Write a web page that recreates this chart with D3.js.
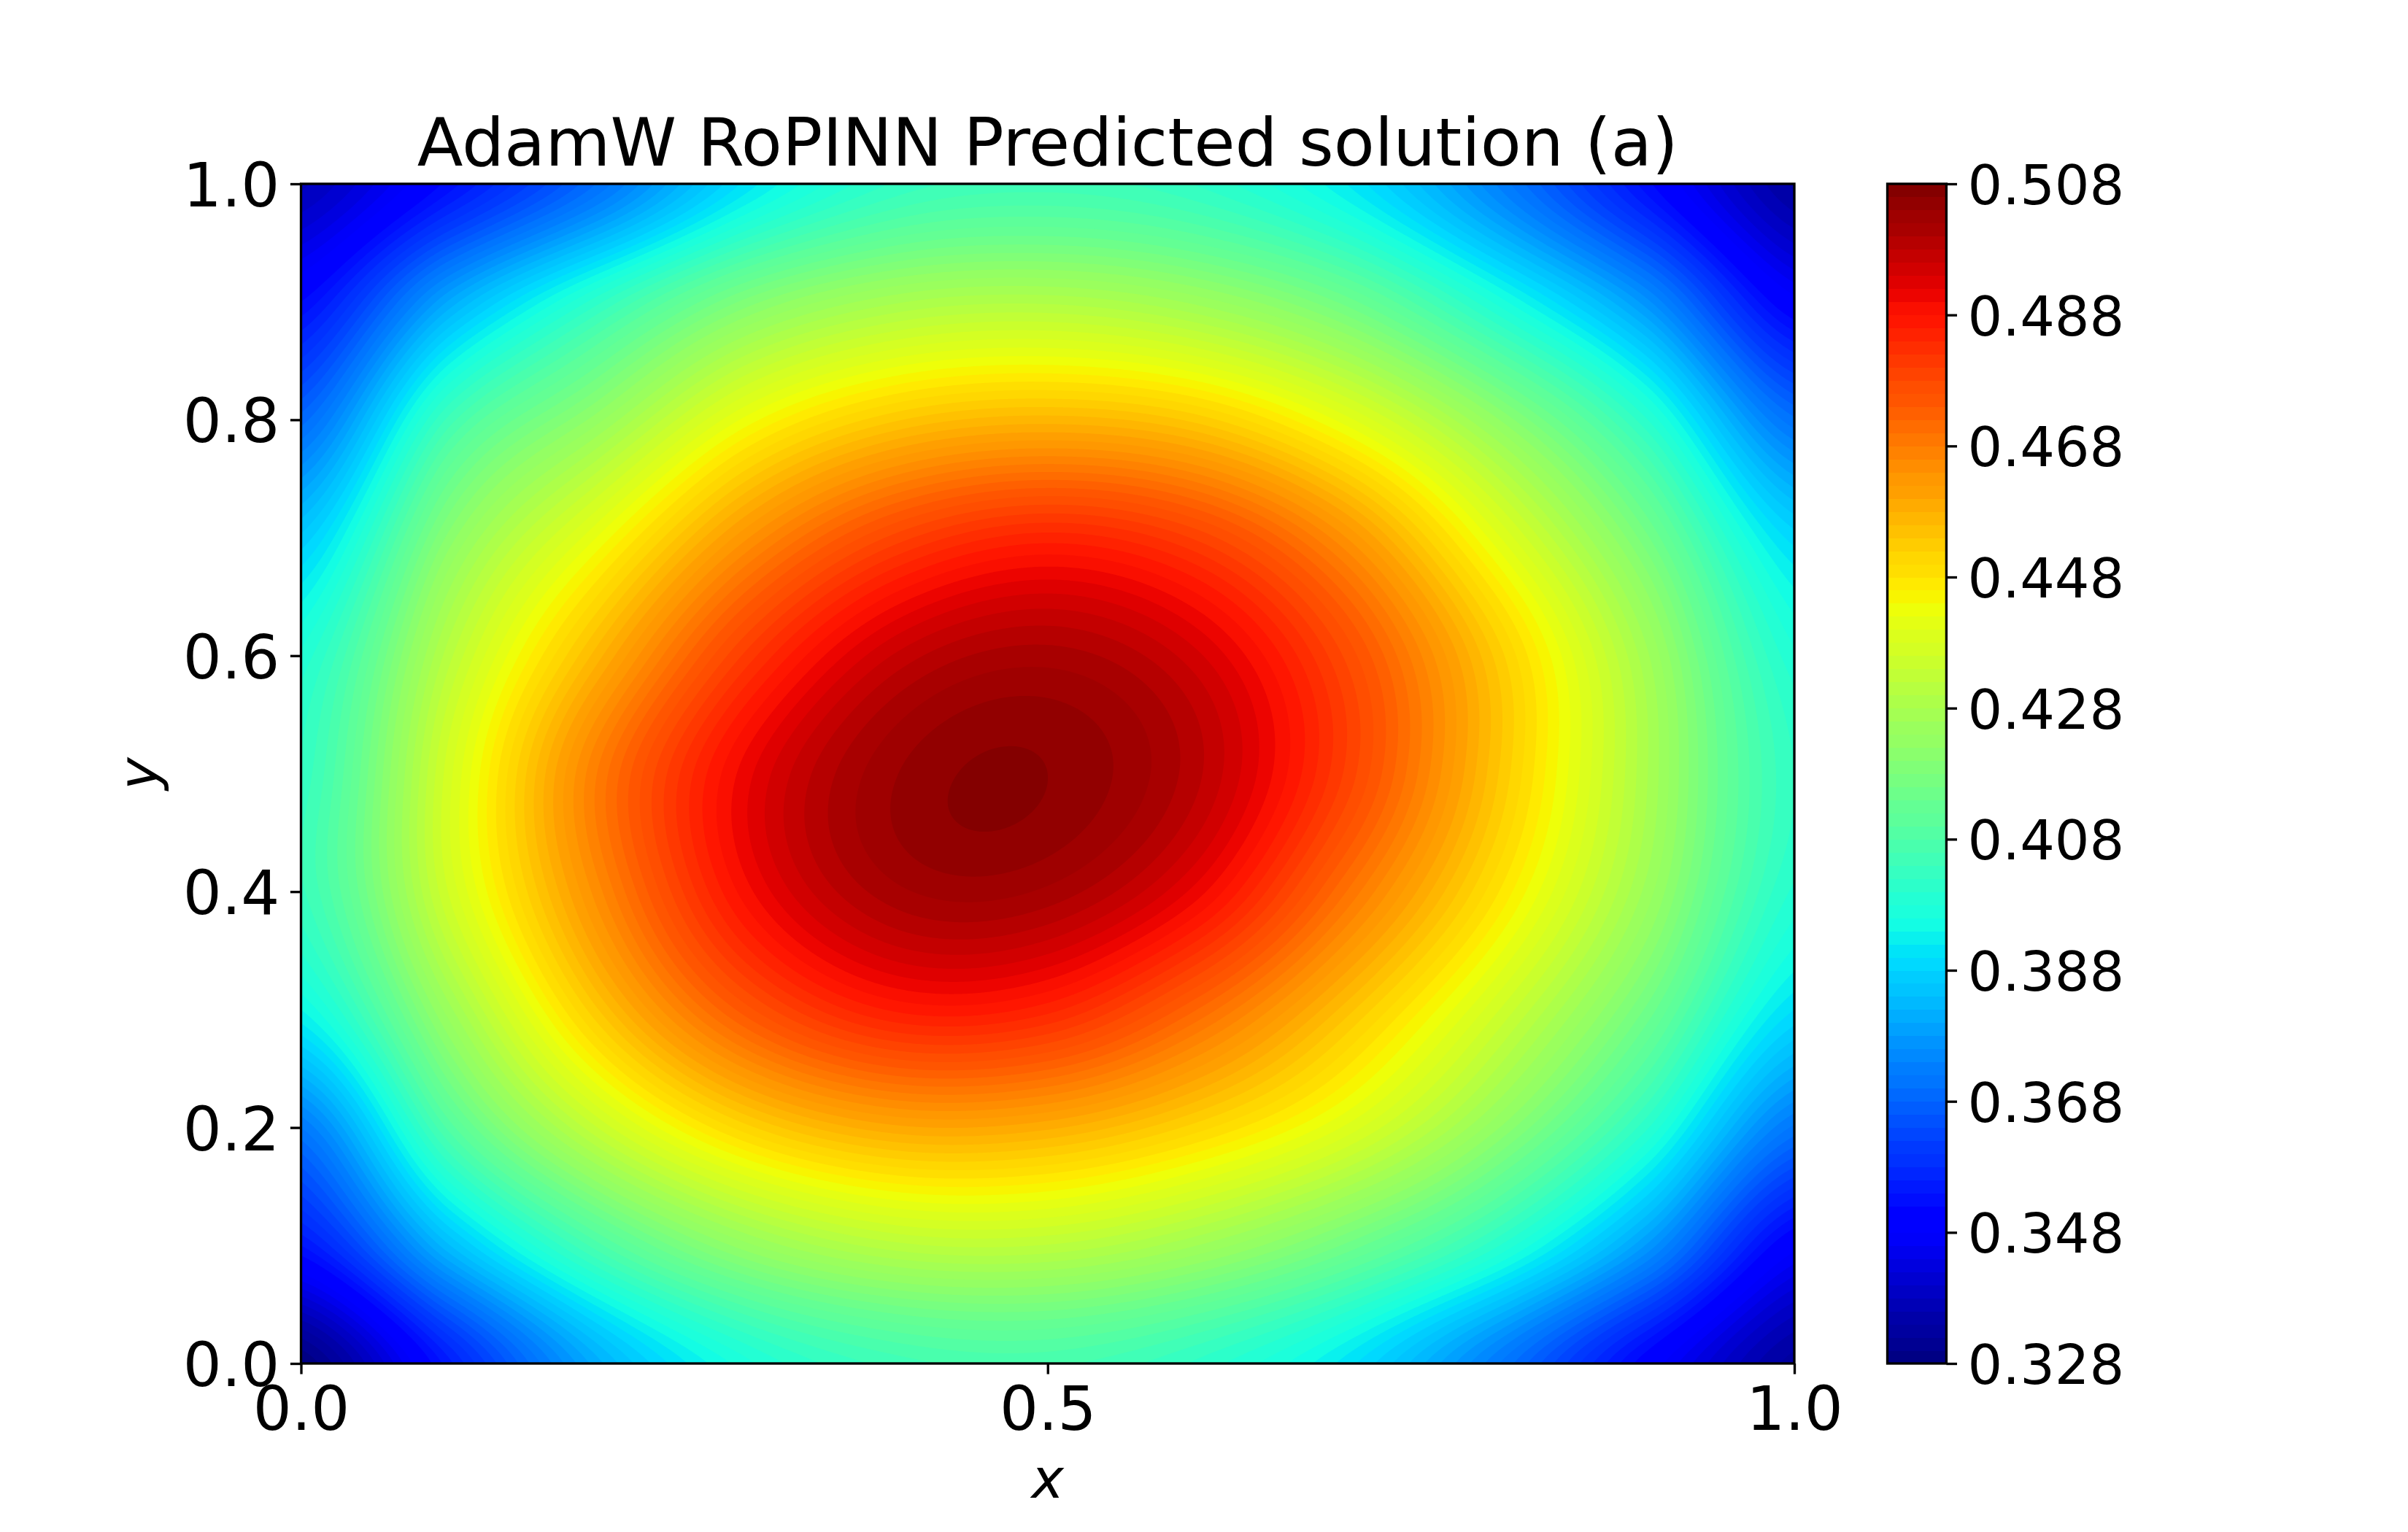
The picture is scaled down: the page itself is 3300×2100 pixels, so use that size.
<!DOCTYPE html>
<html>
<head>
<meta charset="utf-8">
<script src="https://cdnjs.cloudflare.com/ajax/libs/d3/7.8.5/d3.min.js"></script>
<style>
  body { margin: 0; background: #fff; }
  text { font-family: "DejaVu Sans"; fill: #000; }
</style>
</head>
<body>
<div id="graph"></div>
<script>
var titleText = "AdamW RoPINN Predicted solution (a)";

var xGrid = [0, 0.1, 0.2, 0.3, 0.4, 0.5, 0.6, 0.7, 0.8, 0.9, 1];
var yGrid = [1, 0.9, 0.8, 0.7, 0.6, 0.5, 0.4, 0.3, 0.2, 0.1, 0];
var z10 = [.3375, .353, .3705, .391, .4025, .405, .4018, .392, .374, .353, .3335];
var z09 = [.352, .3806, .4016, .419, .4277, .4295, .4253, .4151, .3975, .377, .349];
var z08 = [.369, .405, .4235, .443, .4538, .457, .4532, .4408, .4225, .4005, .3705];
var z07 = [.3865, .421, .4425, .464, .479, .485, .4795, .464, .4408, .4168, .389];
var z06 = [.3985, .4315, .4575, .481, .4965, .501, .4945, .4775, .4535, .4268, .3985];
var z05 = [.4025, .4375, .4685, .4915, .504, .506, .4985, .4795, .4545, .4285, .402];
var z04 = [.4035, .4365, .4655, .4895, .5015, .5015, .491, .470, .4485, .4255, .3995];
var z03 = [.394, .4255, .4542, .4755, .4865, .4848, .472, .455, .4365, .4158, .390];
var z02 = [.372, .409, .4343, .4515, .4595, .4585, .451, .4395, .4225, .4007, .3715];
var z01 = [.354, .384, .4075, .4235, .4313, .4318, .426, .4155, .4005, .378, .349];
var z00 = [.328, .3555, .3815, .3975, .405, .4065, .4015, .391, .3725, .3505, .333];
var zRows = [z10, z09, z08, z07, z06, z05, z04, z03, z02, z01, z00];

var xTicks = [0, 0.5, 1];
var yTicks = [0, 0.2, 0.4, 0.6, 0.8, 1];
var cbarTicks = [0.328, 0.348, 0.368, 0.388, 0.408, 0.428, 0.448, 0.468, 0.488, 0.508];
var zMin = 0.328, zMax = 0.508, nBands = 90;
var levels = d3.range(nBands).map(function(i) { return zMin + (zMax - zMin) * i / nBands; });
var bandStep = (zMax - zMin) / nBands;

var left = 412.5, right = 2459, top_ = 252, bottom = 1869;
var cbLeft = 2586.5, cbRight = 2667.4;
var lw = 3.33, tickLen = 14.6, tickPad = 14.6;

var svg = d3.select("#graph").append("svg")
    .attr("width", 3300)
    .attr("height", 2100)
    .style("display", "block")
    .style("background", "#fff");

var x = d3.scaleLinear().domain([0, 1]).range([left, right]);
var y = d3.scaleLinear().domain([0, 1]).range([bottom, top_]);
var cy = d3.scaleLinear().domain([zMin, zMax]).range([bottom, top_]);

// jet, 256 steps, same segments as matplotlib
var jetR = d3.scaleLinear().domain([0, .35, .66, .89, 1]).range([0, 0, 1, 1, .5]);
var jetG = d3.scaleLinear().domain([0, .125, .375, .64, .91, 1]).range([0, 0, 1, 1, 0, 0]);
var jetB = d3.scaleLinear().domain([0, .11, .34, .65, 1]).range([.5, 1, 1, 0, 0]);
function jet(v) {
    var t = Math.min(255, Math.floor((v - zMin) / (zMax - zMin) * 256)) / 255;
    return d3.rgb(jetR(t) * 255, jetG(t) * 255, jetB(t) * 255).formatRgb();
}

// catmull-rom between the read grid values, only so the bands come out round
function cr(p0, p1, p2, p3, t) {
    return 0.5 * (2 * p1 + (p2 - p0) * t + (2 * p0 - 5 * p1 + 4 * p2 - p3) * t * t + (3 * p1 - p0 - 3 * p2 + p3) * t * t * t);
}
function pick(a, i) { return a[Math.max(0, Math.min(a.length - 1, i))]; }
function zAt(u, v) {
    var n = xGrid.length - 1;
    var fx = u * n, fy = v * n;
    var i = Math.min(n - 1, Math.floor(fx)), j = Math.min(n - 1, Math.floor(fy));
    var vals = [];
    for (var k = -1; k <= 2; k++) {
        var row = pick(zRows, j + k);
        vals.push(cr(pick(row, i - 1), pick(row, i), pick(row, i + 1), pick(row, i + 2), fx - i));
    }
    return cr(vals[0], vals[1], vals[2], vals[3], fy - j);
}

var nx = 682, ny = 539;
var fine = new Array(nx * ny);
for (var j = 0; j < ny; j++) {
    for (var i = 0; i < nx; i++) {
        fine[j * nx + i] = zAt((i + 0.5) / nx, (j + 0.5) / ny);
    }
}

var contours = d3.contours().size([nx, ny]).thresholds(levels)(fine);
var toScreen = d3.geoTransform({
    point: function(px, py) {
        this.stream.point(x(px / nx), y(1 - py / ny));
    }
});
var path = d3.geoPath(toScreen);

svg.append("clipPath").attr("id", "plotClip").append("rect")
    .attr("x", left).attr("y", top_)
    .attr("width", right - left).attr("height", bottom - top_);

var plot = svg.append("g").attr("clip-path", "url(#plotClip)");
plot.append("rect")
    .attr("x", left).attr("y", top_)
    .attr("width", right - left).attr("height", bottom - top_)
    .style("fill", jet(zMin + bandStep / 2));
plot.selectAll("path")
    .data(contours)
    .enter()
    .append("path")
      .attr("d", path)
      .style("fill", function(d) { return jet(d.value + bandStep / 2); })
      .style("stroke", "none");

// axes
var xAxis = svg.append("g")
    .attr("transform", "translate(0," + bottom + ")")
    .call(d3.axisBottom(x).tickValues(xTicks).tickFormat(d3.format(".1f")).tickSize(tickLen).tickPadding(tickPad));
var yAxis = svg.append("g")
    .attr("transform", "translate(" + left + ",0)")
    .call(d3.axisLeft(y).tickValues(yTicks).tickFormat(d3.format(".1f")).tickSize(tickLen).tickPadding(tickPad));
xAxis.select(".domain").remove();
yAxis.select(".domain").remove();
xAxis.selectAll("text").style("font-size", "83.33px").style("font-family", "DejaVu Sans").attr("dy", "0.745em");
yAxis.selectAll("text").style("font-size", "83.33px").style("font-family", "DejaVu Sans").attr("dy", "0.365em");
xAxis.selectAll("line").style("stroke-width", lw);
yAxis.selectAll("line").style("stroke-width", lw);

svg.append("rect")
    .attr("x", left).attr("y", top_)
    .attr("width", right - left).attr("height", bottom - top_)
    .style("fill", "none").style("stroke", "#000").style("stroke-width", lw);

svg.append("text")
    .attr("x", (left + right) / 2)
    .attr("y", 227)
    .attr("text-anchor", "middle")
    .style("font-size", "91.67px")
    .text(titleText);

svg.append("text")
    .attr("x", (left + right) / 2)
    .attr("y", 2053)
    .attr("text-anchor", "middle")
    .style("font-size", "75px")
    .style("font-style", "italic")
    .text("x");

svg.append("text")
    .attr("transform", "translate(216," + (top_ + bottom) / 2 + ") rotate(-90)")
    .attr("text-anchor", "middle")
    .style("font-size", "75px")
    .style("font-style", "italic")
    .text("y");

// colorbar
svg.selectAll("rect.band")
    .data(levels)
    .enter()
    .append("rect")
      .attr("class", "band")
      .attr("x", cbLeft)
      .attr("width", cbRight - cbLeft)
      .attr("y", function(d) { return cy(d + bandStep); })
      .attr("height", function(d) { return cy(d) - cy(d + bandStep) + 0.5; })
      .attr("shape-rendering", "crispEdges")
      .style("fill", function(d) { return jet(d + bandStep / 2); });

var cAxis = svg.append("g")
    .attr("transform", "translate(" + cbRight + ",0)")
    .call(d3.axisRight(cy).tickValues(cbarTicks).tickFormat(d3.format(".3f")).tickSize(tickLen).tickPadding(tickPad));
cAxis.select(".domain").remove();
cAxis.selectAll("text").style("font-size", "75px").style("font-family", "DejaVu Sans").attr("dy", "0.365em");
cAxis.selectAll("line").style("stroke-width", lw);

svg.append("rect")
    .attr("x", cbLeft).attr("y", top_)
    .attr("width", cbRight - cbLeft).attr("height", bottom - top_)
    .style("fill", "none").style("stroke", "#000").style("stroke-width", lw);
</script>
</body>
</html>
